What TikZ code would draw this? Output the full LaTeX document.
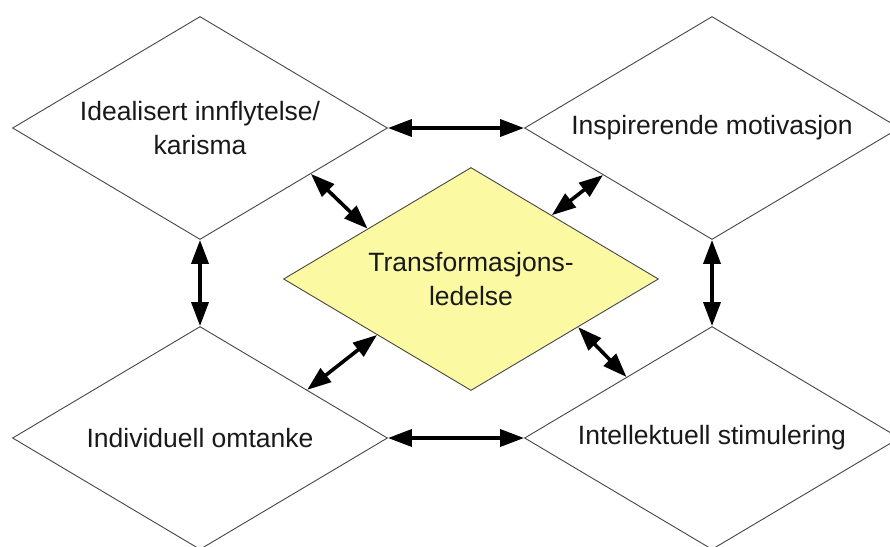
\documentclass[tikz,border=0pt]{standalone}
\usepackage{fontspec}
\setmainfont{Liberation Sans}
\usetikzlibrary{shapes.geometric,arrows.meta,calc}
\definecolor{paleyellow}{RGB}{252,249,163}
\definecolor{edgegray}{RGB}{70,70,70}
\definecolor{textdark}{RGB}{25,25,25}
\tikzset{
  facet/.style={diamond, draw=edgegray, line width=0.9pt, fill=white,
    minimum width=375pt, minimum height=223pt, aspect=1.68, inner sep=0pt,
    align=center, text=textdark, font=\fontsize{26.5}{34}\selectfont},
  core/.style={facet, fill=paleyellow},
  link/.style={line width=3.6pt, black,
    {Triangle[length=24pt,width=17pt]}-{Triangle[length=24pt,width=17pt]}}
}
\begin{document}
\begin{tikzpicture}[x=1pt,y=-1pt]
  \useasboundingbox (0,0) rectangle (890,546);
  % the four components around the core
  \node[facet] (tl) at (200,128) {Idealisert innflytelse/\\karisma};
  \node[facet] (tr) at (712,128) {Inspirerende motivasjon};
  \node[facet] (bl) at (200,438) {Individuell omtanke};
  \node[facet] (br) at (712,438) {Intellektuell stimulering};
  % the core concept
  \node[core] (c) at (471,279) {Transformasjons-\\ledelse};
  % links between neighbouring components
  \draw[link] (tl.east) -- (tr.west);
  \draw[link] (bl.east) -- (br.west);
  \draw[link] (tl.south) -- (bl.north);
  \draw[link] (tr.south) -- (br.north);
  % links from the core to each component
  \draw[link] ($(tl.east)!0.41!(tl.south)$) -- ($(c.west)!0.45!(c.north)$);
  \draw[link] ($(c.north)!0.43!(c.east)$) -- ($(tr.west)!0.42!(tr.south)$);
  \draw[link] ($(bl.east)!0.43!(bl.north)$) -- ($(c.west)!0.5!(c.south)$);
  \draw[link] ($(c.south)!0.57!(c.east)$) -- ($(br.west)!0.545!(br.north)$);
\end{tikzpicture}
\end{document}
